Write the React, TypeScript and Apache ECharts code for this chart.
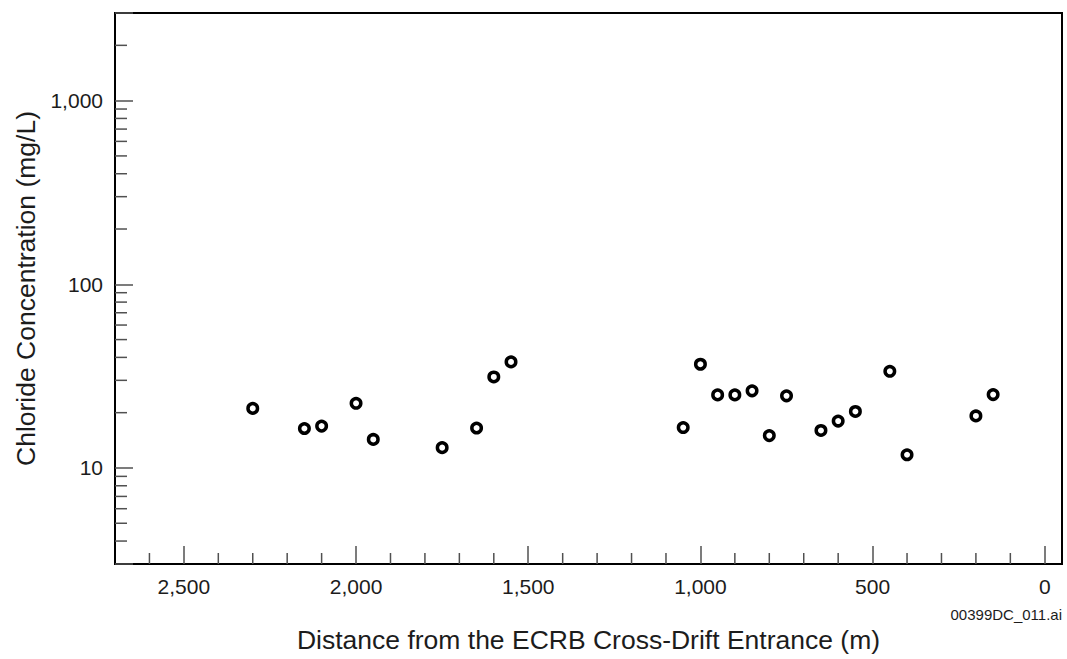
import React, { useEffect, useRef } from "react";
import * as echarts from "echarts";

const distances = [2300, 2150, 2100, 2000, 1950, 1750, 1650, 1600, 1550, 1050, 1000, 950, 900, 850, 800, 750, 650, 600, 550, 450, 400, 200, 150];
const chloride = [21.1, 16.4, 16.9, 22.5, 14.3, 12.9, 16.5, 31.3, 37.8, 16.6, 36.7, 25.0, 25.0, 26.3, 15.0, 24.7, 16.0, 18.0, 20.3, 33.6, 11.8, 19.2, 25.1];

const xMajorTicks = [0, 500, 1000, 1500, 2000, 2500];
const xMinorTicks = [100, 200, 300, 400, 600, 700, 800, 900, 1100, 1200, 1300, 1400, 1600, 1700, 1800, 1900, 2100, 2200, 2300, 2400, 2600];
const yMajorTicks = [10, 100, 1000];
const yMinorTicks = [4, 5, 6, 7, 8, 9, 20, 30, 40, 50, 60, 70, 80, 90, 200, 300, 400, 500, 600, 700, 800, 900, 2000];

const xTitle = "Distance from the ECRB Cross-Drift Entrance (m)";
const yTitle = "Chloride Concentration (mg/L)";
const fileTag = "00399DC_011.ai";

const FONT = "'Liberation Sans', Arial, sans-serif";
const TEXT = "#1c1c1c";
const TICK = "#505050";

export default function App() {
  const ref = useRef<HTMLDivElement>(null);
  useEffect(() => {
    document.body.style.margin = "0";
    if (!ref.current) return;
    const chart = echarts.init(ref.current, undefined, { renderer: "svg" });
    const fmt = (v: number) => v.toLocaleString("en-US");
    chart.setOption({
      animation: false,
      backgroundColor: "#fff",
      grid: {
        left: 115,
        right: 5,
        top: 13,
        bottom: 95,
        show: true,
        borderColor: "#000",
        borderWidth: 2,
        backgroundColor: "transparent",
      },
      xAxis: {
        type: "value",
        inverse: true,
        min: -50,
        max: 2700,
        name: xTitle,
        nameLocation: "middle",
        nameGap: 62,
        nameTextStyle: { fontFamily: FONT, fontSize: 26.5, color: TEXT },
        axisLine: { show: true, onZero: false, lineStyle: { color: "#000", width: 2 } },
        axisTick: {
          show: true,
          inside: true,
          length: 18,
          customValues: xMajorTicks,
          lineStyle: { color: TICK, width: 1.5 },
        },
        axisLabel: {
          customValues: xMajorTicks,
          formatter: fmt,
          fontFamily: FONT,
          fontSize: 21,
          color: TEXT,
          margin: 12,
        },
        splitLine: { show: false },
      },
      yAxis: {
        type: "log",
        min: 3,
        max: 3000,
        name: yTitle,
        nameLocation: "middle",
        nameGap: 76,
        nameTextStyle: { fontFamily: FONT, fontSize: 26.5, color: TEXT },
        axisLine: { show: true, onZero: false, lineStyle: { color: "#000", width: 2 } },
        axisTick: { show: true, inside: true, length: 18, lineStyle: { color: TICK, width: 1.5 } },
        axisLabel: {
          fontFamily: FONT,
          fontSize: 21,
          color: TEXT,
          margin: 12,
          formatter: (v: number) =>
            yMajorTicks.some((m) => Math.abs(m - v) / m < 1e-6) ? fmt(Math.round(v)) : "",
        },
        splitLine: { show: false },
        minorSplitLine: { show: false },
      },
      graphic: [
        {
          type: "text",
          right: 5,
          top: 607,
          style: { text: fileTag, fontFamily: FONT, fontSize: 15, fill: TEXT },
        },
      ],
      series: [
        {
          type: "custom",
          silent: true,
          clip: false,
          data: yMinorTicks.map((v) => [2700, v]),
          renderItem: (params: any, api: any) => {
            const p = api.coord([api.value(0), api.value(1)]);
            return {
              type: "line",
              shape: { x1: p[0], y1: p[1], x2: p[0] + 12, y2: p[1] },
              style: { stroke: TICK, lineWidth: 1.5 },
            };
          },
        },
        {
          type: "custom",
          silent: true,
          clip: false,
          data: xMinorTicks.map((d) => [d, 3]),
          renderItem: (params: any, api: any) => {
            const p = api.coord([api.value(0), api.value(1)]);
            return {
              type: "line",
              shape: { x1: p[0], y1: p[1], x2: p[0], y2: p[1] - 11 },
              style: { stroke: TICK, lineWidth: 1.5 },
            };
          },
        },
        {
          type: "scatter",
          data: distances.map((d, i) => [d, chloride[i]]),
          symbol: "circle",
          symbolSize: 9.5,
          itemStyle: { color: "#fff", borderColor: "#000", borderWidth: 3.5, opacity: 1 },
          z: 5,
        },
      ],
    });
    return () => chart.dispose();
  }, []);
  return <div ref={ref} style={{ width: 1067, height: 659 }} />;
}
